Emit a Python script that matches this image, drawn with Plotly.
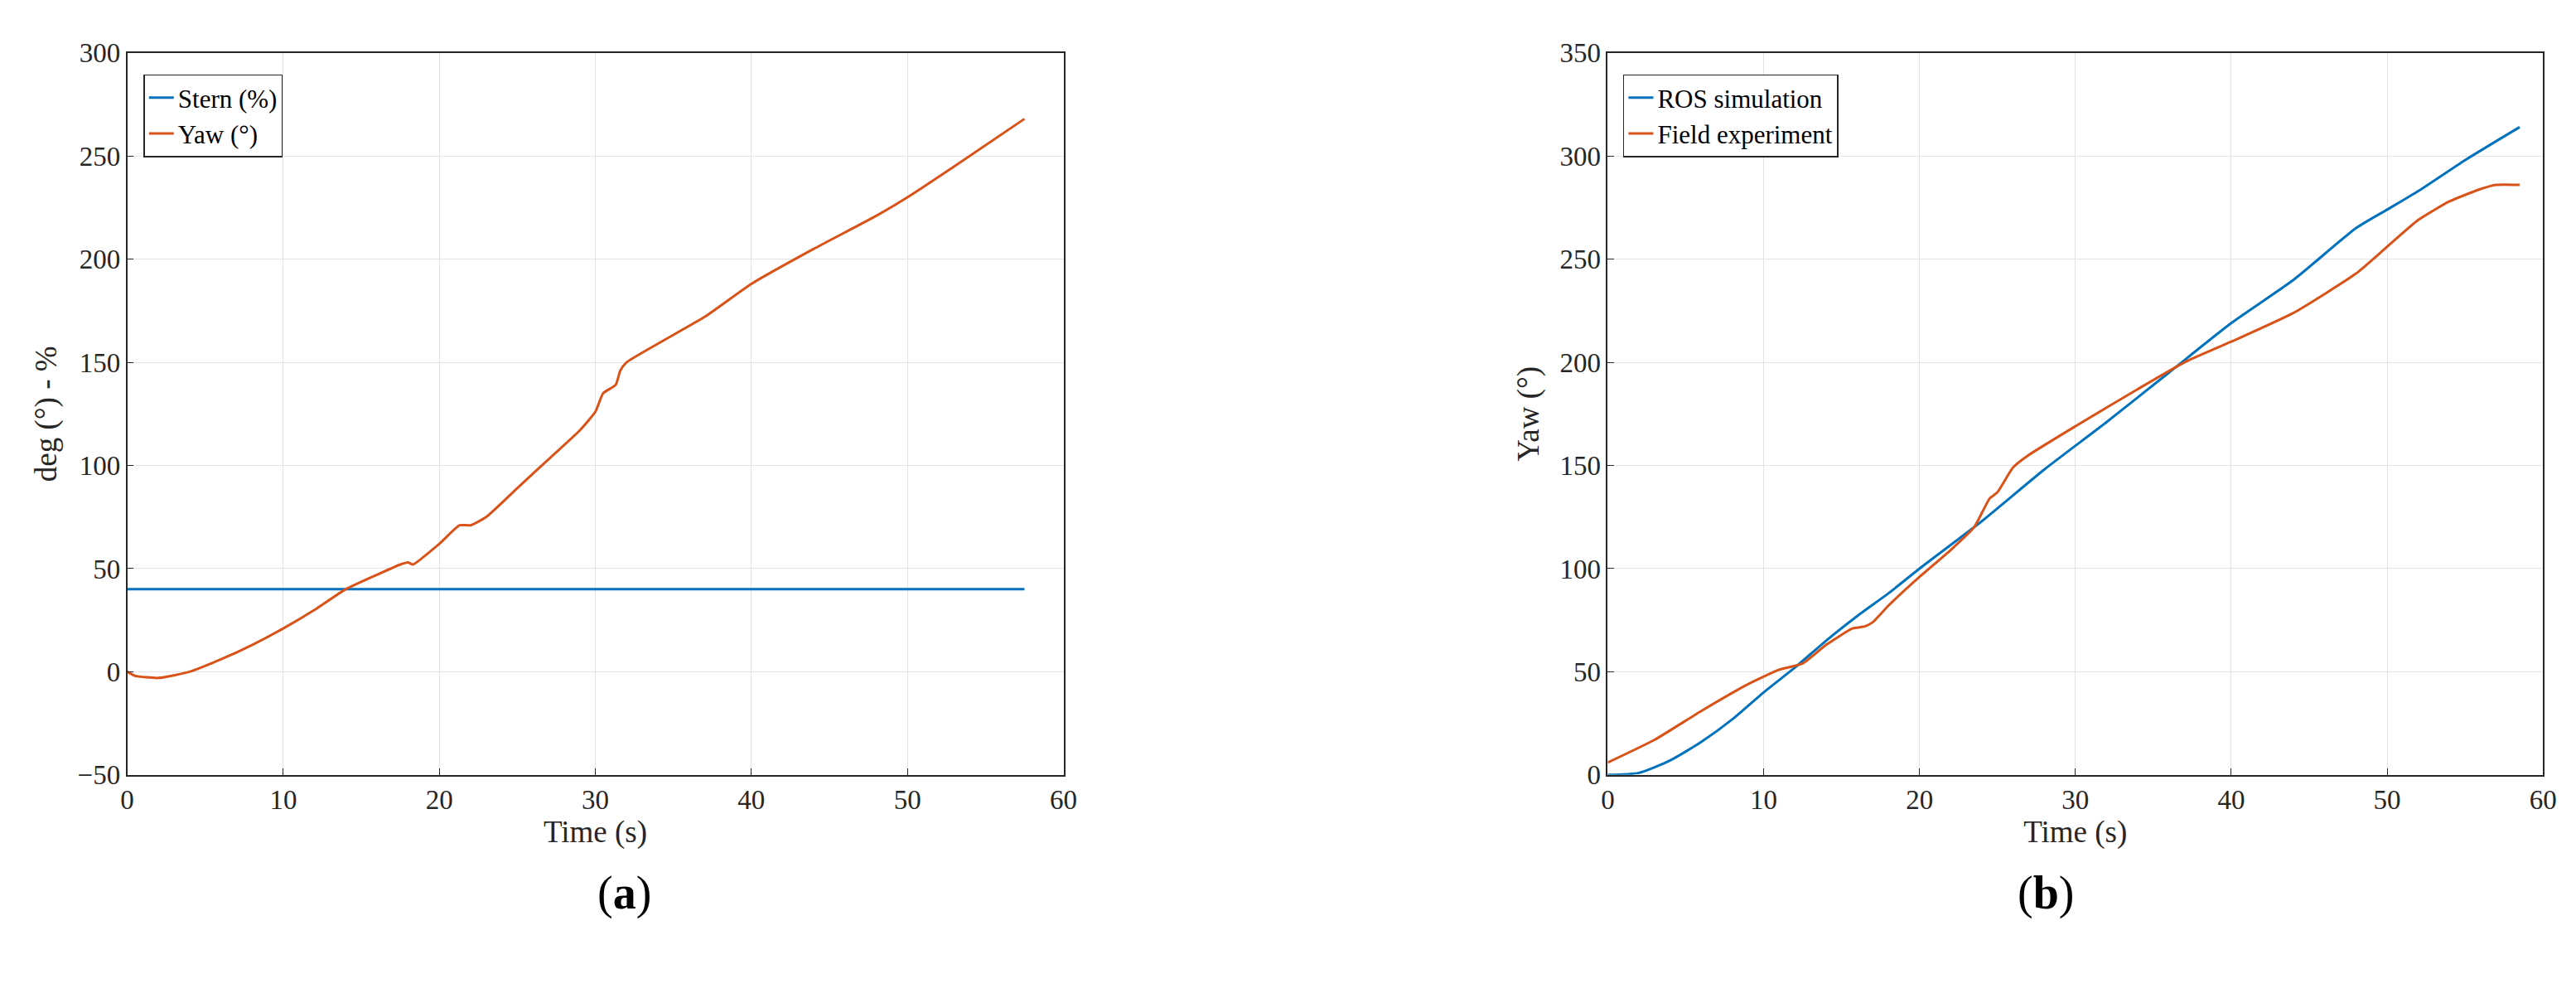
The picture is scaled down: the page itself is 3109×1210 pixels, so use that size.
import plotly.graph_objects as go
from plotly.subplots import make_subplots

# Panel (a)
stern_t = [0, 57.5]
stern_v = [40, 40]
yaw_a_t = [0, 0.5, 2, 4, 6, 8, 10, 12, 14, 16, 17.5, 18, 18.3, 20, 21.3, 22, 23, 25, 27, 29, 30,
           30.5, 31.3, 31.6, 32, 34, 37, 40, 44, 48, 50, 53, 57.5]
yaw_a_v = [0, -2, -3, 0, 6, 13, 21, 30, 40, 47, 52, 53, 52, 62, 71, 71, 75, 89, 103, 117, 126,
           135, 139, 146, 150, 159, 172, 188, 205, 221, 230, 245, 268]

# Panel (b)
ros_t = [0, 2, 4, 6, 8, 10, 12, 14, 16, 18, 20, 24, 28, 32, 36, 40, 44, 48, 50, 52, 55, 58.5]
ros_v = [0, 1, 7, 16, 27, 40, 52, 65, 77, 88, 100, 123, 148, 171, 195, 219, 240, 265, 274, 283, 298, 314]
field_t = [0, 3, 6, 9, 11, 12.5, 14, 15.7, 16.5, 17, 18, 20, 22, 23.5, 24.5, 25, 26, 27, 30, 34, 37,
           40, 44, 48, 50, 52, 54, 56, 57, 58.5]
field_v = [6, 17, 31, 44, 51, 54, 63, 71, 72, 74, 82, 96, 109, 120, 134, 137, 149, 155, 169, 187, 200,
           210, 224, 243, 256, 269, 278, 284, 286, 286]

BLUE = "#0072BD"
ORANGE = "#D95319"
FONT = "Liberation Serif"

fig = make_subplots(rows=1, cols=2)
fig.add_scatter(x=stern_t, y=stern_v, mode="lines", line=dict(color=BLUE, width=3),
                name="Stern (%)", legend="legend", row=1, col=1)
fig.add_scatter(x=yaw_a_t, y=yaw_a_v, mode="lines", line=dict(color=ORANGE, width=3, shape="spline", smoothing=0.5),
                name="Yaw (°)", legend="legend", row=1, col=1)
fig.add_scatter(x=ros_t, y=ros_v, mode="lines", line=dict(color=BLUE, width=3, shape="spline", smoothing=0.6),
                name="ROS simulation", legend="legend2", row=1, col=2)
fig.add_scatter(x=field_t, y=field_v, mode="lines", line=dict(color=ORANGE, width=3, shape="spline", smoothing=0.5),
                name="Field experiment", legend="legend2", row=1, col=2)

axis_style = dict(showline=True, linecolor="#262626", linewidth=1.5, mirror=True, ticks="inside",
                  ticklen=8, tickcolor="#262626", showgrid=True, gridcolor="#e3e3e3", zeroline=False,
                  tickfont=dict(size=33, color="#262626"))
fig.update_xaxes(axis_style, range=[0, 60], dtick=10,
                 title=dict(text="Time (s)", font=dict(size=37, color="#262626"), standoff=6))
fig.update_yaxes(axis_style)
fig.update_yaxes(range=[-50, 300], dtick=50, row=1, col=1,
                 title=dict(text="deg (°) - %", font=dict(size=37, color="#262626"), standoff=14))
fig.update_yaxes(range=[0, 350], dtick=50, row=1, col=2,
                 title=dict(text="Yaw (°)", font=dict(size=37, color="#262626"), standoff=14))
fig.update_xaxes(domain=[0.0446, 0.411], row=1, col=1)
fig.update_xaxes(domain=[0.624, 0.990], row=1, col=2)
fig.update_yaxes(domain=[0.225, 0.967])

legend_style = dict(bgcolor="white", bordercolor="#262626", borderwidth=1.5,
                    font=dict(size=31, color="black"), xanchor="left", yanchor="top", y=0.945)
fig.update_layout(
    width=3109, height=1210, paper_bgcolor="white", plot_bgcolor="white",
    font=dict(family=FONT), margin=dict(l=0, r=0, t=0, b=0),
    legend=dict(legend_style, x=0.051),
    legend2=dict(legend_style, x=0.630),
    annotations=[
        dict(text="(<b>a</b>)", x=0.228, y=0.075, xref="paper", yref="paper", showarrow=False,
             font=dict(size=56, color="black", family=FONT)),
        dict(text="(<b>b</b>)", x=0.807, y=0.075, xref="paper", yref="paper", showarrow=False,
             font=dict(size=56, color="black", family=FONT)),
    ],
)
fig.write_html("out.html")
